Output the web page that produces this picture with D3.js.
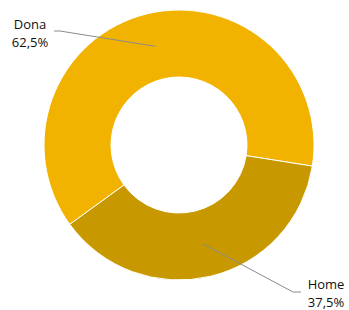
<!DOCTYPE html>
<html>
<head>
<meta charset="utf-8">
<script src="https://cdn.jsdelivr.net/npm/d3@7"></script>
<style>
  body { margin: 0; background: #fff; }
  text { font-family: "Open Sans", sans-serif; font-size: 13px; fill: #111; }
</style>
</head>
<body>
<div id="chart"></div>
<script>
// Dades
const categories = ['Dona', 'Home'];
const values = [62.5, 37.5];
const labels = ['62,5%', '37,5%'];
const colors = ['#F1B300', '#C89800'];

// Mides
const width = 349;
const height = 310;
const cx = 179;
const cy = 145;
const outerR = 135;
const innerR = 68;
const startDeg = 234;

const svg = d3.select('#chart')
  .append('svg')
  .attr('width', width)
  .attr('height', height);

const g = svg.append('g')
  .attr('transform', `translate(${cx}, ${cy})`);

const pie = d3.pie()
  .sort(null)
  .value(d => d)
  .startAngle(startDeg * Math.PI / 180)
  .endAngle((startDeg + 360) * Math.PI / 180);

const arc = d3.arc()
  .innerRadius(innerR)
  .outerRadius(outerR);

const arcs = pie(values);

g.selectAll('.slice')
  .data(arcs)
  .enter()
  .append('path')
  .attr('class', 'slice')
  .attr('d', arc)
  .attr('fill', (d, i) => colors[i])
  .attr('stroke', '#fff')
  .attr('stroke-width', 1);

// Linies guia i etiquetes (posicio de l'etiqueta relativa al centre)
const labelPos = [
  { x: 30 - cx, y: 29 - cy, end: [60 - cx, 31 - cy], elbow: [54 - cx, 31 - cy] },
  { x: 326 - cx, y: 289 - cy, end: [293 - cx, 292 - cy], elbow: [301 - cx, 292 - cy] }
];

const lineGen = d3.line();

g.selectAll('.leader')
  .data(arcs)
  .enter()
  .append('path')
  .attr('class', 'leader')
  .attr('d', (d, i) => lineGen([arc.centroid(d), labelPos[i].end, labelPos[i].elbow]))
  .attr('fill', 'none')
  .attr('stroke', '#8c8c8c')
  .attr('stroke-width', 1);

const lbl = g.selectAll('.lbl')
  .data(arcs)
  .enter()
  .append('text')
  .attr('class', 'lbl')
  .attr('text-anchor', 'middle')
  .attr('transform', (d, i) => `translate(${labelPos[i].x}, ${labelPos[i].y})`);

lbl.append('tspan')
  .attr('x', 0)
  .attr('y', 0)
  .text((d, i) => categories[i]);

lbl.append('tspan')
  .attr('x', 0)
  .attr('y', 18)
  .text((d, i) => labels[i]);
</script>
</body>
</html>
